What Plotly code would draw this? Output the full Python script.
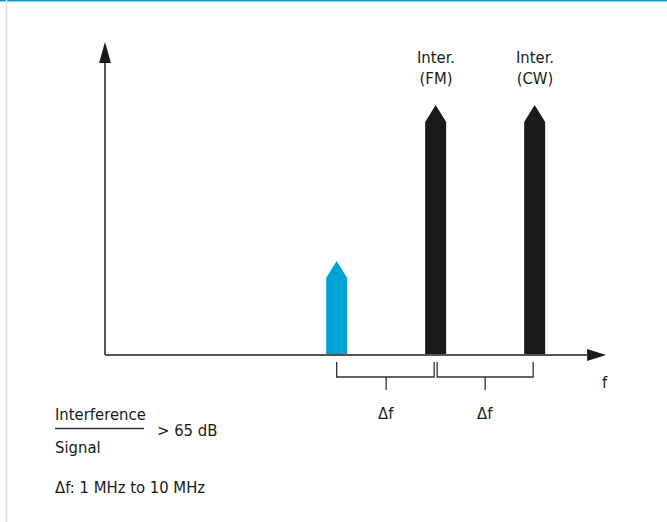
import plotly.graph_objects as go

# ---- data (schematic spectrum) ----
categories = ["Signal", "Inter. (FM)", "Inter. (CW)"]
labels = ["", "Inter.<br>(FM)", "Inter.<br>(CW)"]
freqs = [2.34, 3.34, 4.34]          # relative frequency units (Δf = 1)
levels = [9.4, 25.0, 25.0]          # relative level units
colors = ["#00a3d4", "#1a1a1a", "#1a1a1a"]
delta_label = "Δf"
ratio_num = "Interference"
ratio_den = "Signal"
ratio_val = "> 65 dB"
range_note = "Δf: 1 MHz to 10 MHz"

W, H = 667, 522
FONT = "Liberation Sans Narrow, DejaVu Sans Condensed, Arial Narrow, sans-serif"

fig = go.Figure()

half_w = 0.106   # bar half-width (f units)
head = 1.7       # arrow-tip height (level units)
for f, lv, c, name in zip(freqs, levels, colors, categories):
    xs = [f - half_w, f - half_w, f, f + half_w, f + half_w, f - half_w]
    ys = [0, lv - head, lv, lv - head, 0, 0]
    fig.add_trace(go.Scatter(x=xs, y=ys, mode="lines", fill="toself",
                             fillcolor=c, line=dict(color=c, width=0),
                             name=name, hoverinfo="name", showlegend=False))

shapes = []
axis_col = "#555555"
# frequency axis
x_end = 4.87
shapes.append(dict(type="line", xref="x", yref="y", x0=0, y0=0, x1=x_end, y1=0,
                   line=dict(color=axis_col, width=2)))
shapes.append(dict(type="path", xref="x", yref="y",
                   path=f"M {x_end},0.6 L {x_end + 0.19},0 L {x_end},-0.6 Z",
                   fillcolor="#1a1a1a", line=dict(width=0)))
# level axis
y_end = 29.2
shapes.append(dict(type="line", xref="x", yref="y", x0=0, y0=0, x1=0, y1=y_end,
                   line=dict(color=axis_col, width=2)))
shapes.append(dict(type="path", xref="x", yref="y",
                   path=f"M -0.06,{y_end} L 0,{y_end + 2.1} L 0.06,{y_end} Z",
                   fillcolor="#1a1a1a", line=dict(width=0)))

# brackets between adjacent carriers
br_col = "#333333"
gap = 0.015
for i in range(len(freqs) - 1):
    a = freqs[i] + (gap if i > 0 else 0)
    b = freqs[i + 1] - gap
    mid = (freqs[i] + freqs[i + 1]) / 2
    shapes.append(dict(type="path", xref="x", yref="y",
                       path=f"M {a},-0.7 L {a},-2.2 L {b},-2.2 L {b},-0.7",
                       line=dict(color=br_col, width=1.3)))
    shapes.append(dict(type="line", xref="x", yref="y", x0=mid, y0=-2.2, x1=mid, y1=-3.5,
                       line=dict(color=br_col, width=1.3)))

# frame decorations
shapes.append(dict(type="line", xref="paper", yref="paper", x0=0, x1=1, y0=1, y1=1,
                   line=dict(color="#00a0d6", width=3)))
shapes.append(dict(type="line", xref="paper", yref="paper", x0=6.5 / W, x1=6.5 / W, y0=0, y1=1,
                   line=dict(color="#d5dce3", width=1.5)))
# fraction bar
shapes.append(dict(type="line", xref="paper", yref="paper", x0=55 / W, x1=144 / W,
                   y0=1 - 428.5 / H, y1=1 - 428.5 / H, line=dict(color="#333333", width=1.3)))

ann = []
tfont = dict(family=FONT, size=16.5, color="#1a1a1a")
for f, lab in zip(freqs, labels):
    if lab:
        ann.append(dict(x=f, y=28.7, xref="x", yref="y", text=lab, showarrow=False,
                        font=tfont, xanchor="center", yanchor="middle", align="center"))
for i in range(len(freqs) - 1):
    mid = (freqs[i] + freqs[i + 1]) / 2
    ann.append(dict(x=mid, y=-5.8, xref="x", yref="y", text=delta_label, showarrow=False,
                    font=tfont, xanchor="center", yanchor="middle"))
ann.append(dict(x=5.05, y=-2.7, xref="x", yref="y", text="f", showarrow=False,
                font=tfont, xanchor="center", yanchor="middle"))


def paper_text(px, py, text, anchor="left"):
    return dict(x=px / W, y=1 - py / H, xref="paper", yref="paper", text=text,
                showarrow=False, font=tfont, xanchor=anchor, yanchor="middle")


ann.append(paper_text(53, 414, ratio_num))
ann.append(paper_text(53, 447, ratio_den))
ann.append(paper_text(155, 430, ratio_val))
ann.append(paper_text(53, 487, range_note))

fig.update_layout(
    width=W, height=H,
    margin=dict(l=0, r=0, t=0, b=0),
    paper_bgcolor="white", plot_bgcolor="white",
    xaxis=dict(range=[-105 / 99, 562 / 99], visible=False, fixedrange=True),
    yaxis=dict(range=[-16.7, 35.5], visible=False, fixedrange=True),
    shapes=shapes, annotations=ann, showlegend=False,
)

fig.write_html("out.html", config={"displayModeBar": False},
               post_script="document.body.style.margin='0';document.body.style.overflow='hidden';")
